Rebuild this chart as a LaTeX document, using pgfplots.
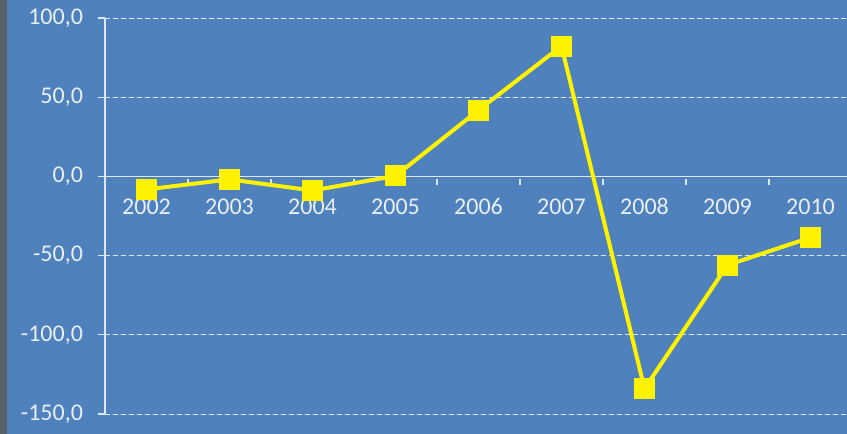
\documentclass[border=0pt]{standalone}
\usepackage{pgfplots}
\pgfplotsset{compat=1.18}
\usepackage{fontspec}
\setmainfont{Carlito}
\definecolor{bgblue}{RGB}{79,129,189}
\definecolor{strip}{RGB}{88,96,106}
\definecolor{txt}{RGB}{232,239,248}
\definecolor{gridc}{RGB}{220,232,245}
\begin{document}
\begin{tikzpicture}
\useasboundingbox (0pt,0pt) rectangle (423.5pt,217pt);
\fill[bgblue] (0pt,0pt) rectangle (423.5pt,217pt);
\fill[strip] (0pt,0pt) rectangle (3.5pt,217pt);
\begin{axis}[
    at={(52.5pt,10pt)}, anchor=south west,
    scale only axis,
    width=371pt, height=198pt,
    xmin=-0.5, xmax=8.44,
    ymin=-150, ymax=100,
    axis x line=middle, axis y line=left,
    axis line style={-, draw=gridc, line width=0.6pt},
    xtick={0,...,8},
    xticklabels={2002,2003,2004,2005,2006,2007,2008,2009,2010},
    major x tick style={draw=none},
    minor xtick={0.5,1.5,...,7.5},
    minor tick length=3pt,
    minor x tick style={draw=gridc, line width=0.6pt, yshift=-1.5pt},
    ytick={-150,-100,...,100},
    major tick length=3.5pt,
    tick align=outside,
    y tick style={draw=gridc, line width=0.6pt},
    ymajorgrids,
    major grid style={draw=gridc, line width=0.5pt, dash pattern=on 2.5pt off 1.5pt},
    xticklabel style={font=\fontsize{12}{14}\selectfont, text=txt, anchor=north, yshift=-4pt},
    yticklabel style={font=\fontsize{12}{14}\selectfont, text=txt, xshift=-4pt},
    yticklabel={\pgfmathprintnumber[fixed, fixed zerofill, precision=1, use comma, assume math mode=true]{\tick}},
    clip=false,
]
\addplot[color=yellow, line width=2pt, mark=square*, mark size=5pt,
    mark options={fill=yellow, draw=yellow, line width=0pt}]
    coordinates {
    (0,-8.2) (1,-1.9) (2,-8.9) (3,0.3) (4,41.8)
    (5,82.3) (6,-134) (7,-56) (8,-38.6)
    };
\end{axis}
\end{tikzpicture}
\end{document}
